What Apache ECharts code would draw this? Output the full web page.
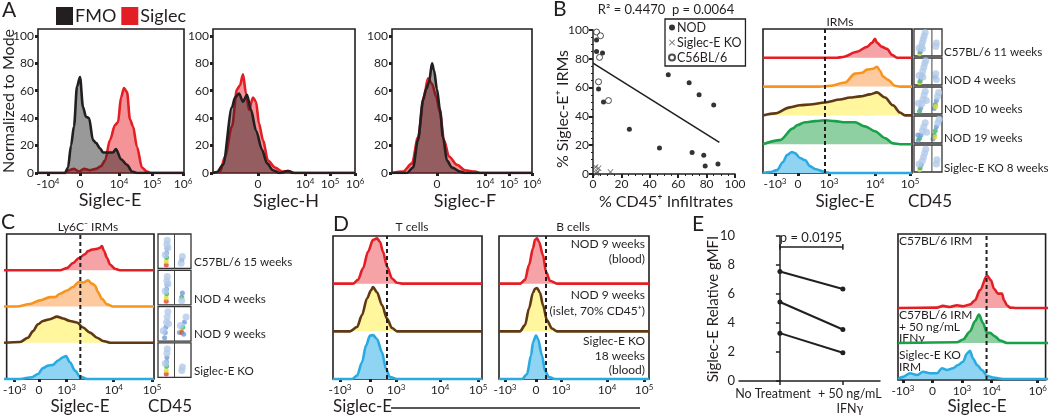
<!DOCTYPE html>
<html><head><meta charset="utf-8">
<script src="https://cdn.jsdelivr.net/npm/echarts@6/dist/echarts.min.js"></script>
<style>html,body{margin:0;padding:0;background:#fff}#c{width:1050px;height:417px}</style>
</head><body><div id="c"></div><script>
const FONT = 'Lato, "Open Sans", sans-serif';
const INK = '#231f20';
const COL = {red:'#e31e24', redF:'#f5a3a7', orange:'#f7941d', orangeF:'#fdc99f', brown:'#603913', brownF:'#fff69e',
  green:'#19a14a', greenF:'#8ed0a2', blue:'#29abe2', blueF:'#90d4f4'};

// ---------- Panel A (x in display channels, y = % of mode) ----------
const aTicks1 = [10,42,81,114,145];
const aLabels1 = ['-10^4','0','10^4','10^5','10^6'];
const aTicks2 = [45,92,117,142];
const aTicks3 = [45,93,117,140];
const aLabels23 = ['0','10^4','10^5','10^6'];
const aYTicks = [0,20,40,60,80,100];
const a1Fmo = [[0,0],[27,0],[30,4],[33,20],[36,34],[39,63],[42,70],[45,48],[48,41],[51,40],[55,24],[58,22],[62,18],[65,15],[75,15],[78,17.5],[83,10],[89,6],[94,1],[99,0],[146,0]];
const a1Sig = [[0,0],[28,0],[31,2],[36,3],[41,1],[46,3],[52,2],[58,3],[63,5],[67,9],[72,24],[77,35],[80,37],[83,55],[86,62],[89,59],[92,39],[95,34],[99,19],[104,4],[109,1],[113,0],[146,0]];
const a2Sig = [[0,0],[7,0.7],[12,12],[19,34],[24,61],[27,64],[30,72],[33,58],[36,46],[40,55],[43,52],[46,36],[50,24],[55,9],[62,4],[69,1],[75,1.5],[82,0],[142,0]];
const a2Fmo = [[0,0],[4,0.7],[10,6],[19,48],[22,55],[26,58],[30,52],[34,57],[38,46],[43,31],[49,17],[54,7],[60,2],[67,0],[75,1.5],[80,0],[142,0]];
const a3Sig = [[0,0],[11,1],[20,7],[26,26],[32,56],[36,69],[40,65],[44,56],[48,44],[52,24],[57,12],[65,6],[73,2],[83,1],[88,0],[140,0]];
const a3Fmo = [[0,0],[15,0],[21,4],[26,24],[31,53],[34,61],[37,66],[40,80],[42,75],[45,61],[48,46],[51,26],[55,9],[60,4],[68,1],[73,0],[140,0]];

// ---------- Panel B scatter ----------
const nodPts = [[2.5,93],[2.5,85],[6.7,84],[3.9,59],[7.4,50],[25.6,31],[53,69],[67.7,63.4],[74.7,55],[85,48],[46.8,18],[69.8,15],[78,13],[79,5.5],[88,7]];
const c56Pts = [[2.5,98.6],[5.3,96],[4.6,81],[3.9,64],[10.9,51]];
const koPts = [[1.8,4.8],[3.9,4],[3.2,1.4],[12.3,1.4],[2.5,0.5]];
const regLine = [[0,77],[89,22]];

// ---------- Panel B histograms ----------
const bTicks = [12,35,66,112,147];
const bLabels = ['-10^3','0','10^3','10^4','10^5'];
const bGate = 62;
const bNames = ['C57BL/6 11 weeks','NOD 4 weeks','NOD 10 weeks','NOD 19 weeks','Siglec-E KO 8 weeks'];
const bRed = [[0,0],[74,0],[80,3],[94,21],[104,38],[109,52],[112,66],[114,52],[119,38],[124,31],[129,10],[134,0],[149,0]];
const bOrange = [[0,0],[57,0],[67,3],[82,14],[92,45],[99,48],[104,59],[110,62],[114,69],[117,55],[120,35],[125,24],[132,3],[137,0],[149,0]];
const bBrown = [[0,0],[12,7],[27,28],[37,35],[47,38],[62,45],[77,55],[87,62],[97,66],[107,73],[114,80],[122,62],[130,35],[137,10],[142,0],[149,0]];
const bGreen = [[0,0],[17,14],[30,55],[34,66],[42,76],[52,80],[62,83],[72,80],[82,76],[92,76],[102,62],[112,45],[122,21],[130,3],[137,0],[149,0]];
const bBlue = [[0,0],[7,3],[14,10],[20,38],[24,62],[29,73],[32,69],[37,52],[42,45],[47,24],[52,14],[62,3],[67,0],[149,0]];
const bThumbs = [
 [[20,8,3],[22,15,2],[24,25,1],[27,38,0],[30,50,0],[33,62,0],[36,74,0],[40,86,0],[23,20,1],[18,30,0],[30,28,0],[78,35,0],[80,48,0]],
 [[20,8,3],[22,14,2],[25,25,1],[28,38,1],[31,52,0],[35,66,0],[38,80,0],[42,90,0],[18,35,0],[32,30,0],[76,30,1],[78,42,0],[80,20,0]],
 [[20,10,2],[24,22,1],[28,38,0],[32,55,0],[36,70,0],[40,84,0],[16,40,0],[44,50,0],[72,20,1],[76,35,2],[80,50,1],[84,65,0],[88,80,0],[78,28,3]],
 [[15,10,1],[20,18,2],[25,30,1],[30,45,0],[35,60,0],[40,75,0],[14,30,1],[45,40,0],[68,15,1],[72,30,2],[76,45,2],[80,60,1],[85,75,0],[90,88,0],[74,22,3]],
 [[20,8,3],[22,16,2],[26,28,1],[30,42,0],[34,56,0],[38,70,0],[42,84,0],[18,30,0],[80,30,0],[82,45,0]]
];

// ---------- Panel C ----------
const cTicks = [8,33,61,109,148];
const cLabels = ['-10^3','0','10^3','10^4','10^5'];
const cGate = 75;
const cNames = ['C57BL/6 15 weeks','NOD 4 weeks','NOD 9 weeks','Siglec-E KO'];
const cRed = [[0,0],[56,0],[63,6],[69,20],[75,34],[81,44],[84,53],[88,57],[93,59],[96,62],[98,67],[100,53],[103,34],[106,16],[111,4],[116,0],[150,0]];
const cOrange = [[0,0],[13,0],[26,7],[36,17],[46,26],[51,26],[56,35],[63,44],[69,54],[75,68],[79,66],[84,72],[88,63],[91,58],[94,40],[98,21],[103,6],[109,0],[150,0]];
const cBrown = [[0,0],[16,2],[24,14],[29,32],[34,51],[39,60],[46,65],[53,72],[59,67],[66,60],[73,56],[79,42],[86,28],[93,14],[99,5],[106,0],[150,0]];
const cBlue = [[0,0],[16,0],[28,5],[34,14],[39,30],[44,37],[49,39],[54,51],[59,60],[62,63],[66,46],[71,23],[76,7],[83,0],[150,0]];
const cThumbs = [
 [[25,10,4],[25,20,3],[26,32,2],[26,45,1],[27,58,1],[27,70,0],[28,82,0],[22,40,0],[30,60,0],[72,25,1],[74,35,0],[70,15,0]],
 [[25,10,4],[25,20,3],[26,32,2],[26,45,1],[27,58,1],[27,70,0],[28,82,0],[22,40,0],[30,60,0],[72,22,2],[74,34,1],[72,12,0]],
 [[20,10,1],[22,25,1],[24,40,1],[26,55,0],[28,70,0],[30,85,0],[16,30,0],[32,50,0],[65,25,1],[70,30,3],[72,25,4],[75,40,2],[80,55,1],[85,70,0],[78,20,1],[68,45,0]],
 [[25,10,4],[25,20,3],[26,32,2],[26,45,1],[27,58,1],[27,70,0],[28,82,0],[22,40,0],[72,20,0],[74,30,0]]
];

// ---------- Panel D ----------
const dtTicks = [7,37,63,107,145];
const dbTicks = [6,37,62,108,145];
const dLabels = ['-10^3','0','10^3','10^4','10^5'];
const dtGate = 54, dbGate = 47;
const dtRed = [[0,0],[20,0],[25,8],[30,32],[35,67],[40,92],[44,95],[47,88],[50,67],[54,36],[59,11],[64,2],[70,0],[149,0]];
const dtBrown = [[0,0],[17,0],[24,9],[29,34],[34,69],[38,86],[40,93],[44,82],[49,55],[54,27],[59,7],[64,0],[149,0]];
const dtBlue = [[0,0],[19,0],[24,7],[29,35],[33,70],[37,91],[40,92],[44,84],[49,56],[53,21],[57,4],[64,0],[149,0]];
const dbRed = [[0,0],[21,0],[26,8],[30,39],[34,74],[36,92],[38,95],[40,88],[44,60],[47,25],[51,6],[58,0],[150,0]];
const dbBrown = [[0,0],[21,0],[26,13],[30,48],[34,81],[36,89],[38,91],[41,81],[44,55],[48,23],[53,6],[58,0],[150,0]];
const dbBlue = [[0,0],[23,0],[28,10],[32,49],[34,77],[37,91],[39,84],[43,49],[46,17],[50,4],[56,0],[150,0]];

// ---------- Panel E ----------
const eCats = ['No Treatment','+ 50 ng/mL\nIFNγ'];
const eNoTreat = [7.55,5.45,3.3];
const eIfn = [6.35,3.55,1.95];
const eBracket = [9.05,9.25,9.45];
const eTicks = [5,35,65,95,142];
const eLabels = ['-10^3','0','10^3','10^4','10^6'];
const eGate = 90;
const eRed = [[0,0],[39,1],[45,6],[52,3],[59,8],[65,5],[72,10],[77,22],[82,51],[89,93],[93,79],[96,55],[100,41],[104,41],[106,22],[109,8],[112,1],[119,0],[150,0]];
const eGreen = [[0,0],[59,2],[65,10],[72,33],[77,62],[81,81],[85,57],[89,29],[92,29],[97,19],[102,7],[109,0],[150,0]];
const eBlue = [[0,0],[5,6],[12,16],[19,11],[25,20],[32,16],[39,16],[44,30],[49,25],[55,30],[60,39],[65,48],[69,71],[72,78],[75,57],[79,39],[84,25],[89,9],[95,4],[105,0],[150,0]];

const densityColors = ['#b3cbea','#6f9ad8','#3fb36b','#e6dc2f','#e0452a'];

// ================= builders =================
const grid=[], xAxis=[], yAxis=[], series=[], graphic=[];
const rich = {s:{fontFamily:FONT, fontSize:8, lineHeight:8, verticalAlign:'top', color:INK}};
function fmtFor(ticks, labels){
  return v => { const k = ticks.findIndex(t=>Math.abs(t-v)<1e-6); return k<0?'':labels[k].replace(/\^(\d)/g,'{s|$1}'); };
}
function addGrid(box, xa, ya, extra){
  const i = grid.length;
  grid.push(Object.assign({left:box[0], top:box[1], width:box[2], height:box[3]}, extra||{}));
  xAxis.push(Object.assign({gridIndex:i, type:'value', splitLine:{show:false}}, xa));
  yAxis.push(Object.assign({gridIndex:i, type:'value', splitLine:{show:false}}, ya));
  return i;
}
const frameStyle = {show:true, borderColor:INK, borderWidth:1.6};
function customXAxis(W, ticks, labels){
  return {min:0, max:W, axisLine:{show:false},
    axisTick:{show:true, customValues:ticks, length:3, lineStyle:{width:3, color:INK}},
    axisLabel:{customValues:ticks, formatter:fmtFor(ticks,labels), fontFamily:FONT, fontSize:12, color:INK, margin:4, lineHeight:15, rich}};
}
function frame(box, W, ticks, labels, gate){
  const gi = addGrid(box, customXAxis(W,ticks,labels), {min:0,max:100,show:false}, frameStyle);
  if(gate!=null) series.push({type:'line', xAxisIndex:gi, yAxisIndex:gi, data:[[gate,0],[gate,100]], symbol:'none',
    silent:true, lineStyle:{type:[4,3], width:2, color:INK}, z:10});
  return gi;
}
function hist(gi, data, line, fill, name, z){
  series.push({type:'line', name, xAxisIndex:gi, yAxisIndex:gi, data, symbol:'none', showSymbol:false,
    smooth:0.3, smoothMonotone:'x', clip:false, silent:true,
    lineStyle:{color:line, width:2.6, join:'round'}, itemStyle:{color:line},
    areaStyle:{color:fill, opacity:1}, z:z||3});
}
function row(box, W, data, line, fill){
  const gi = addGrid(box, {min:0,max:W,show:false}, {min:0,max:100,show:false});
  hist(gi, data, line, fill);
}
function thumb(box, pts, divider){
  const gi = addGrid(box, {min:0,max:100,show:false}, {min:0,max:100,show:false}, {show:true, borderColor:'#333', borderWidth:1.3});
  series.push({type:'scatter', xAxisIndex:gi, yAxisIndex:gi, data:pts, silent:true,
    symbolSize:p=>p[2]===0?7:5,
    itemStyle:{color:p=>densityColors[p.value[2]], opacity:0.8}});
  series.push({type:'line', xAxisIndex:gi, yAxisIndex:gi, data:[[divider,0],[divider,100]], symbol:'none', silent:true,
    lineStyle:{color:'#444', width:1}});
}
function text(x,y,str,size,align,extra){
  graphic.push(Object.assign({type:'text', x, y, silent:true,
    style:{text:str, fontSize:size, fontFamily:FONT, fill:INK, textAlign:align||'center', textVerticalAlign:'middle',
      align:align||'center', verticalAlign:'middle'}}, extra||{}));
}

// ---- A ----
const aBoxes = [[38,29,146,144,aTicks1,aLabels1,a1Sig,a1Fmo],[213,29,142,144,aTicks2,aLabels23,a2Sig,a2Fmo],[392,29,140,144,aTicks3,aLabels23,a3Sig,a3Fmo]];
aBoxes.forEach(b=>{
  const gi = addGrid([b[0],b[1],b[2],b[3]], customXAxis(b[2], b[4], b[5]),
    {min:0, max:105, axisLine:{show:false},
     axisTick:{show:true, customValues:aYTicks, length:3, lineStyle:{width:3,color:INK}},
     axisLabel:{customValues:aYTicks, fontFamily:FONT, fontSize:12, color:INK, margin:4}}, frameStyle);
  series.push({type:'line', name:'Siglec', xAxisIndex:gi, yAxisIndex:gi, data:b[6], symbol:'none', smooth:0.3, smoothMonotone:'x',
    lineStyle:{color:COL.red,width:2.6}, itemStyle:{color:COL.red}, areaStyle:{color:'rgba(232,32,42,0.48)', opacity:1}, z:3, silent:true});
  series.push({type:'line', name:'FMO', xAxisIndex:gi, yAxisIndex:gi, data:b[7], symbol:'none', smooth:0.3, smoothMonotone:'x',
    lineStyle:{color:INK,width:2.6}, itemStyle:{color:INK}, areaStyle:{color:'rgba(30,28,28,0.45)', opacity:1}, z:4, silent:true});
});

// ---- B scatter ----
const sg = addGrid([593,30,142,144],
  {min:0,max:100,interval:20, axisLine:{show:true,lineStyle:{color:INK,width:1.5}}, axisTick:{length:4,lineStyle:{width:2,color:INK}},
   minorTick:{show:true,splitNumber:4,length:2,lineStyle:{color:INK}},
   axisLabel:{fontFamily:FONT,fontSize:12,color:INK,margin:4}},
  {min:0,max:100,interval:20, axisLine:{show:true,lineStyle:{color:INK,width:1.5}}, axisTick:{length:4,lineStyle:{width:2,color:INK}},
   minorTick:{show:true,splitNumber:4,length:2,lineStyle:{color:INK}},
   axisLabel:{fontFamily:FONT,fontSize:12,color:INK,margin:4}});
series.push({type:'line', xAxisIndex:sg, yAxisIndex:sg, data:regLine, symbol:'none', silent:true, lineStyle:{color:INK,width:1.6}});
series.push({type:'scatter', name:'NOD', xAxisIndex:sg, yAxisIndex:sg, data:nodPts, symbol:'circle', symbolSize:5, itemStyle:{color:'#000'}});
series.push({type:'scatter', name:'Siglec-E KO', xAxisIndex:sg, yAxisIndex:sg, data:koPts,
  symbol:'path://M0,1L1,0L5,4L9,0L10,1L6,5L10,9L9,10L5,6L1,10L0,9L4,5Z', symbolSize:6, itemStyle:{color:'#444'}});
series.push({type:'scatter', name:'C56BL/6', xAxisIndex:sg, yAxisIndex:sg, data:c56Pts, symbol:'circle', symbolSize:6,
  itemStyle:{color:'#fff', borderColor:INK, borderWidth:1}});

// ---- B histograms ----
const bRowsData = [[bRed,COL.red,COL.redF],[bOrange,COL.orange,COL.orangeF],[bBrown,COL.brown,COL.brownF],[bGreen,COL.green,COL.greenF],[bBlue,COL.blue,COL.blueF]];
frame([763,29,149,144],149,bTicks,bLabels,bGate);
bRowsData.forEach((r,i)=>row([763,29+i*28.8,149,28.8],149,r[0],r[1],r[2]));
bThumbs.forEach((t,i)=>thumb([914,29+i*29,28,27],t,64));

// ---- C ----
const cRowsData = [[cRed,COL.red,COL.redF],[cOrange,COL.orange,COL.orangeF],[cBrown,COL.brown,COL.brownF],[cBlue,COL.blue,COL.blueF]];
frame([4,234,150,145],150,cTicks,cLabels,cGate);
cRowsData.forEach((r,i)=>row([4,234+i*36.25,150,36.25],150,r[0],r[1],r[2]));
cThumbs.forEach((t,i)=>thumb([158,234+i*36.3,33,34.5],t,50));

// ---- D ----
frame([333,236,149,143],149,dtTicks,dLabels,dtGate);
[[dtRed,COL.red,COL.redF],[dtBrown,COL.brown,COL.brownF],[dtBlue,COL.blue,COL.blueF]].forEach((r,i)=>row([333,236+i*47.67,149,47.67],149,r[0],r[1],r[2]));
frame([499,236,150,143],150,dbTicks,dLabels,dbGate);
[[dbRed,COL.red,COL.redF],[dbBrown,COL.brown,COL.brownF],[dbBlue,COL.blue,COL.blueF]].forEach((r,i)=>row([499,236+i*47.67,150,47.67],150,r[0],r[1],r[2]));

// ---- E left ----
const eLabelRich = {l:{padding:[0,14,0,0],fontFamily:FONT,fontSize:12.5,color:INK}, r:{padding:[0,0,0,14],fontFamily:FONT,fontSize:12.5,color:INK}};
const eg = addGrid([739,236,141,145],
  {min:-0.65,max:1.59, axisLine:{show:true,lineStyle:{color:INK,width:1.5}},
   axisTick:{show:true,customValues:[0,1],length:4,lineStyle:{width:1.5,color:INK}},
   axisLabel:{customValues:[0], fontFamily:FONT, fontSize:12.5, color:INK, margin:5, lineHeight:15, showMinLabel:true, showMaxLabel:true,
     formatter:()=>'{l|'+eCats[0]+'}', rich:eLabelRich}},
  {min:0,max:10,interval:2, axisLine:{show:true,lineStyle:{color:INK,width:1.5}},
   axisTick:{length:4,lineStyle:{width:1.5,color:INK}}, axisLabel:{fontFamily:FONT,fontSize:13,color:INK,margin:4}});
eNoTreat.forEach((v,i)=>series.push({type:'line', xAxisIndex:eg, yAxisIndex:eg, data:[[0,v],[1,eIfn[i]]], symbol:'circle', symbolSize:5,
  lineStyle:{color:INK,width:2}, itemStyle:{color:INK}, silent:true}));
[[[0,eBracket[0]],[0,eBracket[2]]],[[0,eBracket[1]],[1,eBracket[1]]],[[1,eBracket[0]],[1,eBracket[2]]]].forEach(d=>
  series.push({type:'line', xAxisIndex:eg, yAxisIndex:eg, data:d, symbol:'none', lineStyle:{color:INK,width:1.5}, silent:true}));

// ---- E right ----
frame([898,234,150,146],150,eTicks,eLabels,eGate);
row([898,273,150,35],150,eRed,COL.red,COL.redF);
row([898,308,150,35],150,eGreen,COL.green,COL.greenF);
row([898,343,150,36],150,eBlue,COL.blue,COL.blueF);

// second x axis on E left grid (appended last so earlier indices stay aligned) carrying the second category label
xAxis.push({gridIndex:eg, type:'value', min:-0.65, max:1.59, position:'bottom', splitLine:{show:false},
  axisLine:{show:false}, axisTick:{show:false},
  axisLabel:{customValues:[1], fontFamily:FONT, fontSize:12.5, color:INK, margin:5, lineHeight:15, showMinLabel:true, showMaxLabel:true,
    formatter:()=>eCats[1].split('\n').map(s=>'{r|'+s+'}').join('\n'), rich:eLabelRich}});

// ================= texts =================
text(2,10,'A',21,'left'); text(553,9,'B',21,'left'); text(1,222,'C',21,'left'); text(333,224,'D',21,'left'); text(692,224,'E',21,'left');
text(9,101,'Normalized to Mode',16,'center',{rotation:Math.PI/2});
text(110,200,'Siglec-E',18); text(286,201,'Siglec-H',18); text(465,201,'Siglec-F',18);
text(666,10,'R² = 0.4470  p = 0.0064',13);
text(563,109,'% Siglec-E⁺ IRMs',16,'center',{rotation:Math.PI/2});
text(666,202,'% CD45⁺ Infiltrates',16);
text(840,22,'IRMs',12);
[52,80,109,138,168].forEach((y,i)=>text(944,y,bNames[i],11.6,'left'));
text(845,202,'Siglec-E',17); text(930,202,'CD45',17);
text(88,227,'Ly6C⁻ IRMs',12);
[262,299,334,371].forEach((y,i)=>text(194,y,cNames[i],11.6,'left'));
text(80,407,'Siglec-E',17); text(170,407,'CD45',17);
text(412,227,'T cells',12); text(573,227,'B cells',12);
[['NOD 9 weeks',244],['(blood)',259],['NOD 9 weeks',295],['(islet, 70% CD45⁺)',311],['Siglec-E KO',341],['18 weeks',356],['(blood)',370]]
  .forEach(t=>text(645,t[1],t[0],12,'right'));
text(333,407,'Siglec-E',17,'left');
graphic.push({type:'line', shape:{x1:391,y1:408,x2:640,y2:408}, style:{stroke:INK,lineWidth:1.5}, silent:true});
text(811,238,'p = 0.0195',13);
text(713,309,'Siglec-E Relative gMFI',15,'center',{rotation:Math.PI/2});
[['C57BL/6 IRM',241],['C57BL/6 IRM',315],['+ 50 ng/mL',327],['IFNγ',338],['Siglec-E KO',355],['IRM',367]].forEach(t=>text(899,t[1],t[0],12,'left'));
text(977,407,'Siglec-E',17);

const chart = echarts.init(document.getElementById('c'), null, {renderer:'canvas'});
chart.setOption({
  animation:false,
  textStyle:{fontFamily:FONT},
  legend:[
    {data:[{name:'FMO',itemStyle:{color:INK}},{name:'Siglec',itemStyle:{color:COL.red}}], left:51, top:2, icon:'rect',
     itemWidth:17, itemHeight:18, itemGap:5, selectedMode:false, textStyle:{fontSize:18,fontFamily:FONT,color:INK,padding:[0,0,0,-3]}},
    {data:['NOD','Siglec-E KO','C56BL/6'], orient:'vertical', left:665, top:19, itemWidth:6, itemHeight:6, itemGap:2,
     selectedMode:false, borderColor:INK, borderWidth:1.3, padding:[2,4,2,3],
     textStyle:{fontSize:12.5,fontFamily:FONT,color:INK,padding:[0,0,0,-3]}}
  ],
  grid, xAxis, yAxis, series, graphic
});
</script></body></html>
